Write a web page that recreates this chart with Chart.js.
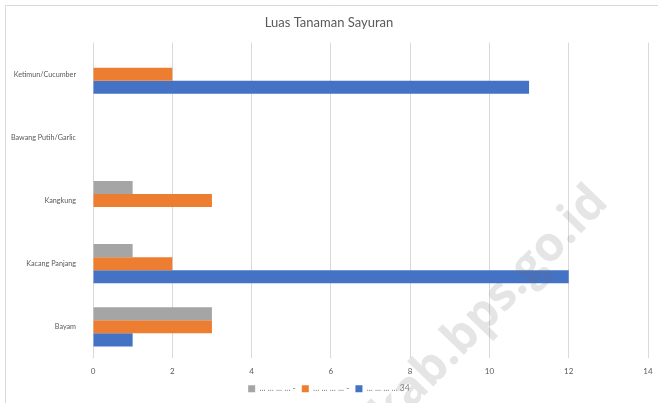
<!DOCTYPE html>
<html>
<head>
<meta charset="utf-8">
<script src="https://cdn.jsdelivr.net/npm/chart.js@4"></script>
<style>
  html, body { margin: 0; padding: 0; background: #fff; }
  #wrap { width: 658px; height: 403px; position: relative; }
</style>
</head>
<body>
<div id="wrap"><canvas id="chart"></canvas></div>
<script>
const categories = ['Ketimun/Cucumber', 'Bawang Putih/Garlic', 'Kangkung', 'Kacang Panjang', 'Bayam'];
const seriesNames = ['... ... ... ... -', '... ... ... ... -', '... ... ... ... 34'];
const seriesGray = [0, 0, 1, 1, 3];
const seriesOrange = [2, 0, 3, 2, 3];
const seriesBlue = [11, 0, 0, 12, 1];
const xTicks = [0, 2, 4, 6, 8, 10, 12, 14];

const FONT = 'Lato, "Open Sans", sans-serif';

// light frame (left + top) and the faint watermark
const framePlugin = {
    id: 'frame',
    beforeDraw(chart) {
        const ctx = chart.ctx;
        ctx.save();
        ctx.strokeStyle = '#d9d9d9';
        ctx.lineWidth = 1;
        ctx.beginPath();
        ctx.moveTo(5.5, 403);
        ctx.lineTo(5.5, 5.5);
        ctx.lineTo(658, 5.5);
        ctx.stroke();
        ctx.restore();
    },
    afterDraw(chart) {
        const ctx = chart.ctx;
        ctx.save();
        ctx.translate(380, 422);
        ctx.rotate(-46 * Math.PI / 180);
        ctx.font = 'bold 48px "Open Sans", sans-serif';
        ctx.fillStyle = 'rgba(110, 110, 110, 0.18)';
        ctx.textBaseline = 'middle';
        ctx.fillText('kab.bps.go.id', 0, 0);
        ctx.restore();
    }
};

new Chart(document.getElementById('chart'), {
    type: 'bar',
    data: {
        labels: categories,
        datasets: [
            { label: seriesNames[0], data: seriesGray, backgroundColor: '#A5A5A5' },
            { label: seriesNames[1], data: seriesOrange, backgroundColor: '#ED7D31' },
            { label: seriesNames[2], data: seriesBlue, backgroundColor: '#4472C4' }
        ]
    },
    options: {
        indexAxis: 'y',
        responsive: true,
        maintainAspectRatio: false,
        animation: false,
        categoryPercentage: 0.62,
        barPercentage: 1.0,
        layout: {
            padding: { left: 10, right: 10, top: 10, bottom: 0 }
        },
        plugins: {
            title: {
                display: true,
                text: 'Luas Tanaman Sayuran',
                color: '#595959',
                font: { family: FONT, size: 13, weight: 'normal' },
                padding: { top: 5, bottom: 12 }
            },
            legend: {
                position: 'bottom',
                labels: {
                    boxWidth: 7,
                    boxHeight: 7,
                    padding: 6,
                    color: '#7f7f7f',
                    font: { family: FONT, size: 8.6 }
                }
            },
            tooltip: { enabled: false }
        },
        scales: {
            x: {
                min: 0,
                max: 14,
                afterBuildTicks(scale) {
                    scale.ticks = xTicks.map(v => ({ value: v }));
                },
                afterFit(scale) {
                    scale.height = 20;
                    scale.paddingLeft = 0;
                    scale.paddingRight = 0;
                },
                grid: { color: '#d9d9d9', drawTicks: false },
                border: { display: false },
                ticks: {
                    color: '#595959',
                    padding: 8,
                    font: { family: FONT, size: 8 }
                }
            },
            y: {
                afterFit(scale) {
                    scale.width = 83;
                },
                grid: { display: false },
                border: { display: false },
                ticks: {
                    color: '#595959',
                    padding: 9,
                    font: { family: FONT, size: 7.2 }
                }
            }
        }
    },
    plugins: [framePlugin]
});
</script>
</body>
</html>
